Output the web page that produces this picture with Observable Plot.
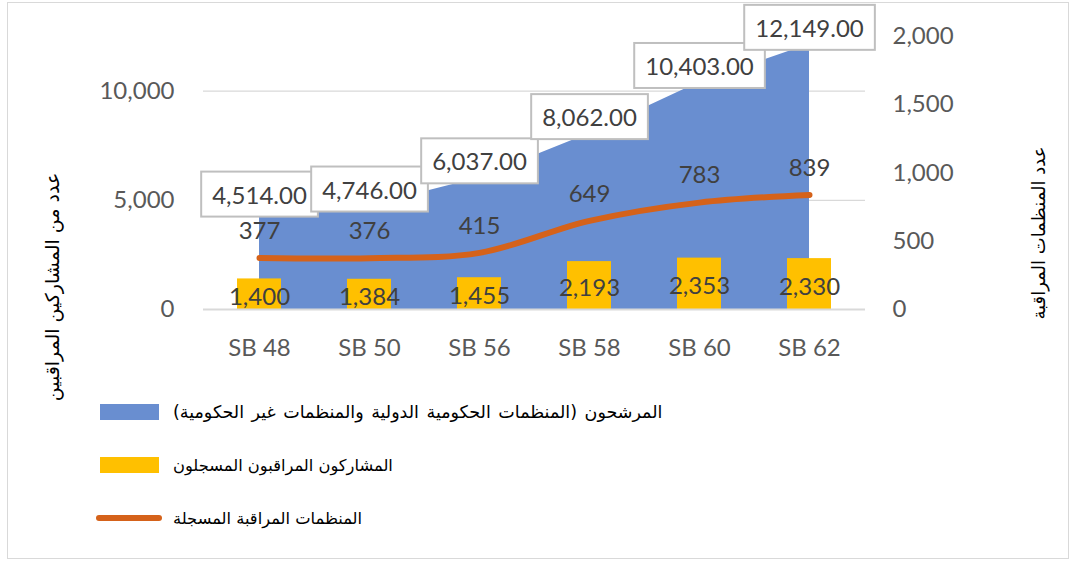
<!DOCTYPE html>
<html><head><meta charset="utf-8">
<script src="https://cdn.jsdelivr.net/npm/d3@7"></script>
<script src="https://cdn.jsdelivr.net/npm/@observablehq/plot@0.6"></script>
<style>
body{margin:0;background:#fff;}
#wrap{position:relative;width:1072px;height:561px;overflow:hidden;font-family:Lato,sans-serif;background:#fff;}
#frame{position:absolute;left:7px;top:2px;width:1062px;height:557px;border:1.5px solid #d9d9d9;box-sizing:border-box;}
#chart{position:absolute;left:0;top:0;}
.ttl{position:absolute;white-space:nowrap;direction:rtl;font-family:"DejaVu Sans",sans-serif;font-size:19px;color:#000;transform:translate(-50%,-50%) rotate(-90deg);}
.sw{position:absolute;}
.lt{position:absolute;left:173px;white-space:nowrap;direction:rtl;font-family:"DejaVu Sans",sans-serif;font-size:16.3px;color:#000;transform:translateY(-50%);}
</style></head>
<body>
<div id="wrap">
  <div id="frame"></div>
  <div id="chart"></div>
  <div id="ltitle" class="ttl" style="left:52px;top:287px;"></div>
  <div id="rtitle" class="ttl" style="left:1038px;top:233px;font-size:18px;"></div>
  <div id="legend"></div>
</div>
<script>
const categories = ["SB 48", "SB 50", "SB 56", "SB 58", "SB 60", "SB 62"];
const candidates = [4514, 4746, 6037, 8062, 10403, 12149];
const participants = [1400, 1384, 1455, 2193, 2353, 2330];
const organizations = [377, 376, 415, 649, 783, 839];
const leftTicks = [0, 5000, 10000];
const rightTicks = [0, 500, 1000, 1500, 2000];
const seriesNames = [
  "المرشحون (المنظمات الحكومية الدولية والمنظمات غير الحكومية)",
  "المشاركون المراقبون المسجلون",
  "المنظمات المراقبة المسجلة"
];
const leftTitle = "عدد من المشاركين المراقبين";
const rightTitle = "عدد المنظمات المراقبة";
const colors = ["#698ED0", "#FFC000", "#D5621A"];

const leftMax = 12500, rightMax = 2000;
const k = leftMax / rightMax;
const rows = categories.map((c, i) => ({c, cand: candidates[i], part: participants[i], org: organizations[i]}));

const plot = Plot.plot({
  width: 1072, height: 380,
  marginLeft: 203, marginRight: 207, marginTop: 36, marginBottom: 71,
  style: {fontFamily: "Lato, sans-serif", background: "transparent", overflow: "visible"},
  x: {type: "band", domain: categories, paddingInner: 0.6, paddingOuter: 0.3, axis: null},
  y: {domain: [0, leftMax], axis: null},
  marks: [
    Plot.ruleY(leftTicks.slice(1), {stroke: "#d9d9d9", strokeWidth: 1.3}),
    Plot.areaY(rows, {x: "c", y: "cand", fill: colors[0]}),
    Plot.barY(rows, {x: "c", y: "part", fill: colors[1]}),
    Plot.ruleY([0], {stroke: "#d9d9d9", strokeWidth: 2}),
    Plot.line(rows, {x: "c", y: d => d.org * k, stroke: colors[2], strokeWidth: 6, strokeLinecap: "round", strokeLinejoin: "round", curve: "catmull-rom"}),
    Plot.text(rows, {x: "c", y: d => d.part / 2, text: d => d3.format(",")(d.part), fontSize: 24, fill: "#404040", dy: 3}),
    Plot.text(rows, {x: "c", y: d => d.org * k, text: d => d3.format(",")(d.org), fontSize: 24, fill: "#404040", dy: -27}),
    Plot.text(rows, {x: "c", y: "cand", text: d => d3.format(",.2f")(d.cand), fontSize: 24, fill: "#404040", dy: -15}),
    Plot.axisY({anchor: "left", ticks: leftTicks, tickFormat: d3.format(","), tickSize: 0, tickPadding: 29, fontSize: 24, color: "#595959", label: null}),
    Plot.axisY({anchor: "right", ticks: rightTicks.map(v => v * k), tickFormat: d => d3.format(",")(Math.round(d / k)), tickSize: 0, tickPadding: 27, fontSize: 24, color: "#595959", label: null}),
    Plot.axisX({anchor: "bottom", tickSize: 0, tickPadding: 29, fontSize: 24, color: "#595959", label: null})
  ]
});
document.getElementById("chart").appendChild(plot);

// white boxes behind the candidate value labels
const ns = "http://www.w3.org/2000/svg";
plot.querySelectorAll("text").forEach(t => {
  if (!/\.00$/.test(t.textContent)) return;
  const b = t.getBBox();
  const r = document.createElementNS(ns, "rect");
  r.setAttribute("x", b.x - 11);
  r.setAttribute("y", b.y + b.height / 2 - 22.5);
  r.setAttribute("width", b.width + 22);
  r.setAttribute("height", 45);
  r.setAttribute("fill", "#fff");
  r.setAttribute("stroke", "#bfbfbf");
  r.setAttribute("stroke-width", 2);
  if (t.getAttribute("transform")) r.setAttribute("transform", t.getAttribute("transform"));
  t.parentNode.insertBefore(r, t);
});

document.getElementById("ltitle").textContent = leftTitle;
document.getElementById("rtitle").textContent = rightTitle;

const legend = document.getElementById("legend");
const legY = [412, 465, 518];
seriesNames.forEach((name, i) => {
  const sw = document.createElement("div");
  sw.className = "sw";
  if (i < 2) {
    Object.assign(sw.style, {left: "100px", top: (legY[i] - 8) + "px", width: "59px", height: "16px", background: colors[i]});
  } else {
    Object.assign(sw.style, {left: "96px", top: (legY[i] - 3) + "px", width: "66px", height: "6px", background: colors[i], borderRadius: "3px"});
  }
  legend.appendChild(sw);
  const t = document.createElement("div");
  t.className = "lt";
  t.style.top = legY[i] + "px";
  if (i === 0) { t.style.fontSize = "17.5px"; t.style.wordSpacing = "2px"; }
  t.textContent = name;
  legend.appendChild(t);
});
</script>
</body></html>
